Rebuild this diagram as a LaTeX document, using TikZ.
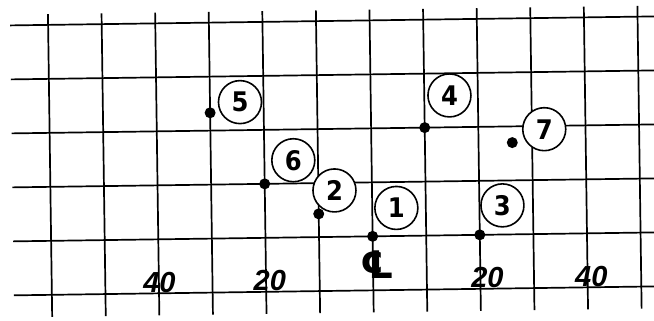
\documentclass[tikz,border=0pt]{standalone}
\usepackage{fontspec}
\newfontfamily\tagfont{DejaVu Sans Condensed}
\newfontfamily\handfont{Liberation Sans}
\newfontfamily\symfont{DejaVu Sans}
\begin{document}
\begin{tikzpicture}[x=53.6pt,y=54pt,
  gridline/.style={line width=1.7pt},
  spot/.style={circle,fill,inner sep=0pt,minimum size=11pt},
  tag/.style={circle,draw,fill=white,line width=1.6pt,inner sep=0pt,
    minimum size=43pt,font=\tagfont\bfseries\fontsize{27}{27}\selectfont},
  scalelabel/.style={inner sep=0pt,font=\handfont\bfseries\itshape\fontsize{29}{29}\selectfont}]
\useasboundingbox (-0.933,-0.556) rectangle (11.27,5.389);
\begin{scope}[rotate around={0.8:(5.17,2.43)}]
% grid
\foreach \k in {0,...,5}
  \draw[gridline] (-0.71,\k) -- (11.4,\k);
\foreach \i in {0,...,11}
  \draw[gridline] (\i,-0.41) -- (\i,5.2);
% points
\node[spot] (p1) at (6,1) {};
\node[spot] (p2) at (5,1.43) {};
\node[spot] (p3) at (8,1) {};
\node[spot] (p4) at (7,3) {};
\node[spot] (p5) at (3,3.33) {};
\node[spot] (p6) at (4,2) {};
\node[spot] (p7) at (8.63,2.7) {};
% numbers
\node[tag] (t1) at (6.45,1.52) {1};
\node[tag] (t2) at (5.3,1.86) {2};
\node[tag] (t3) at (8.43,1.54) {3};
\node[tag] (t4) at (7.47,3.59) {4};
\node[tag] (t5) at (3.56,3.52) {5};
\node[tag] (t6) at (4.54,2.43) {6};
\node[tag] (t7) at (9.23,2.94) {7};
% scale
\node[scalelabel] (l40) at (2.01,0.2) {40};
\node[scalelabel] (l20) at (4.07,0.2) {20};
\node[inner sep=0pt,font=\symfont\bfseries\itshape\fontsize{38}{38}\selectfont] (cl) at (6.08,0.48) {℄};
\node[scalelabel] (r20) at (8.13,0.2) {20};
\node[scalelabel] (r40) at (10.07,0.2) {40};
\end{scope}
\end{tikzpicture}
\end{document}
